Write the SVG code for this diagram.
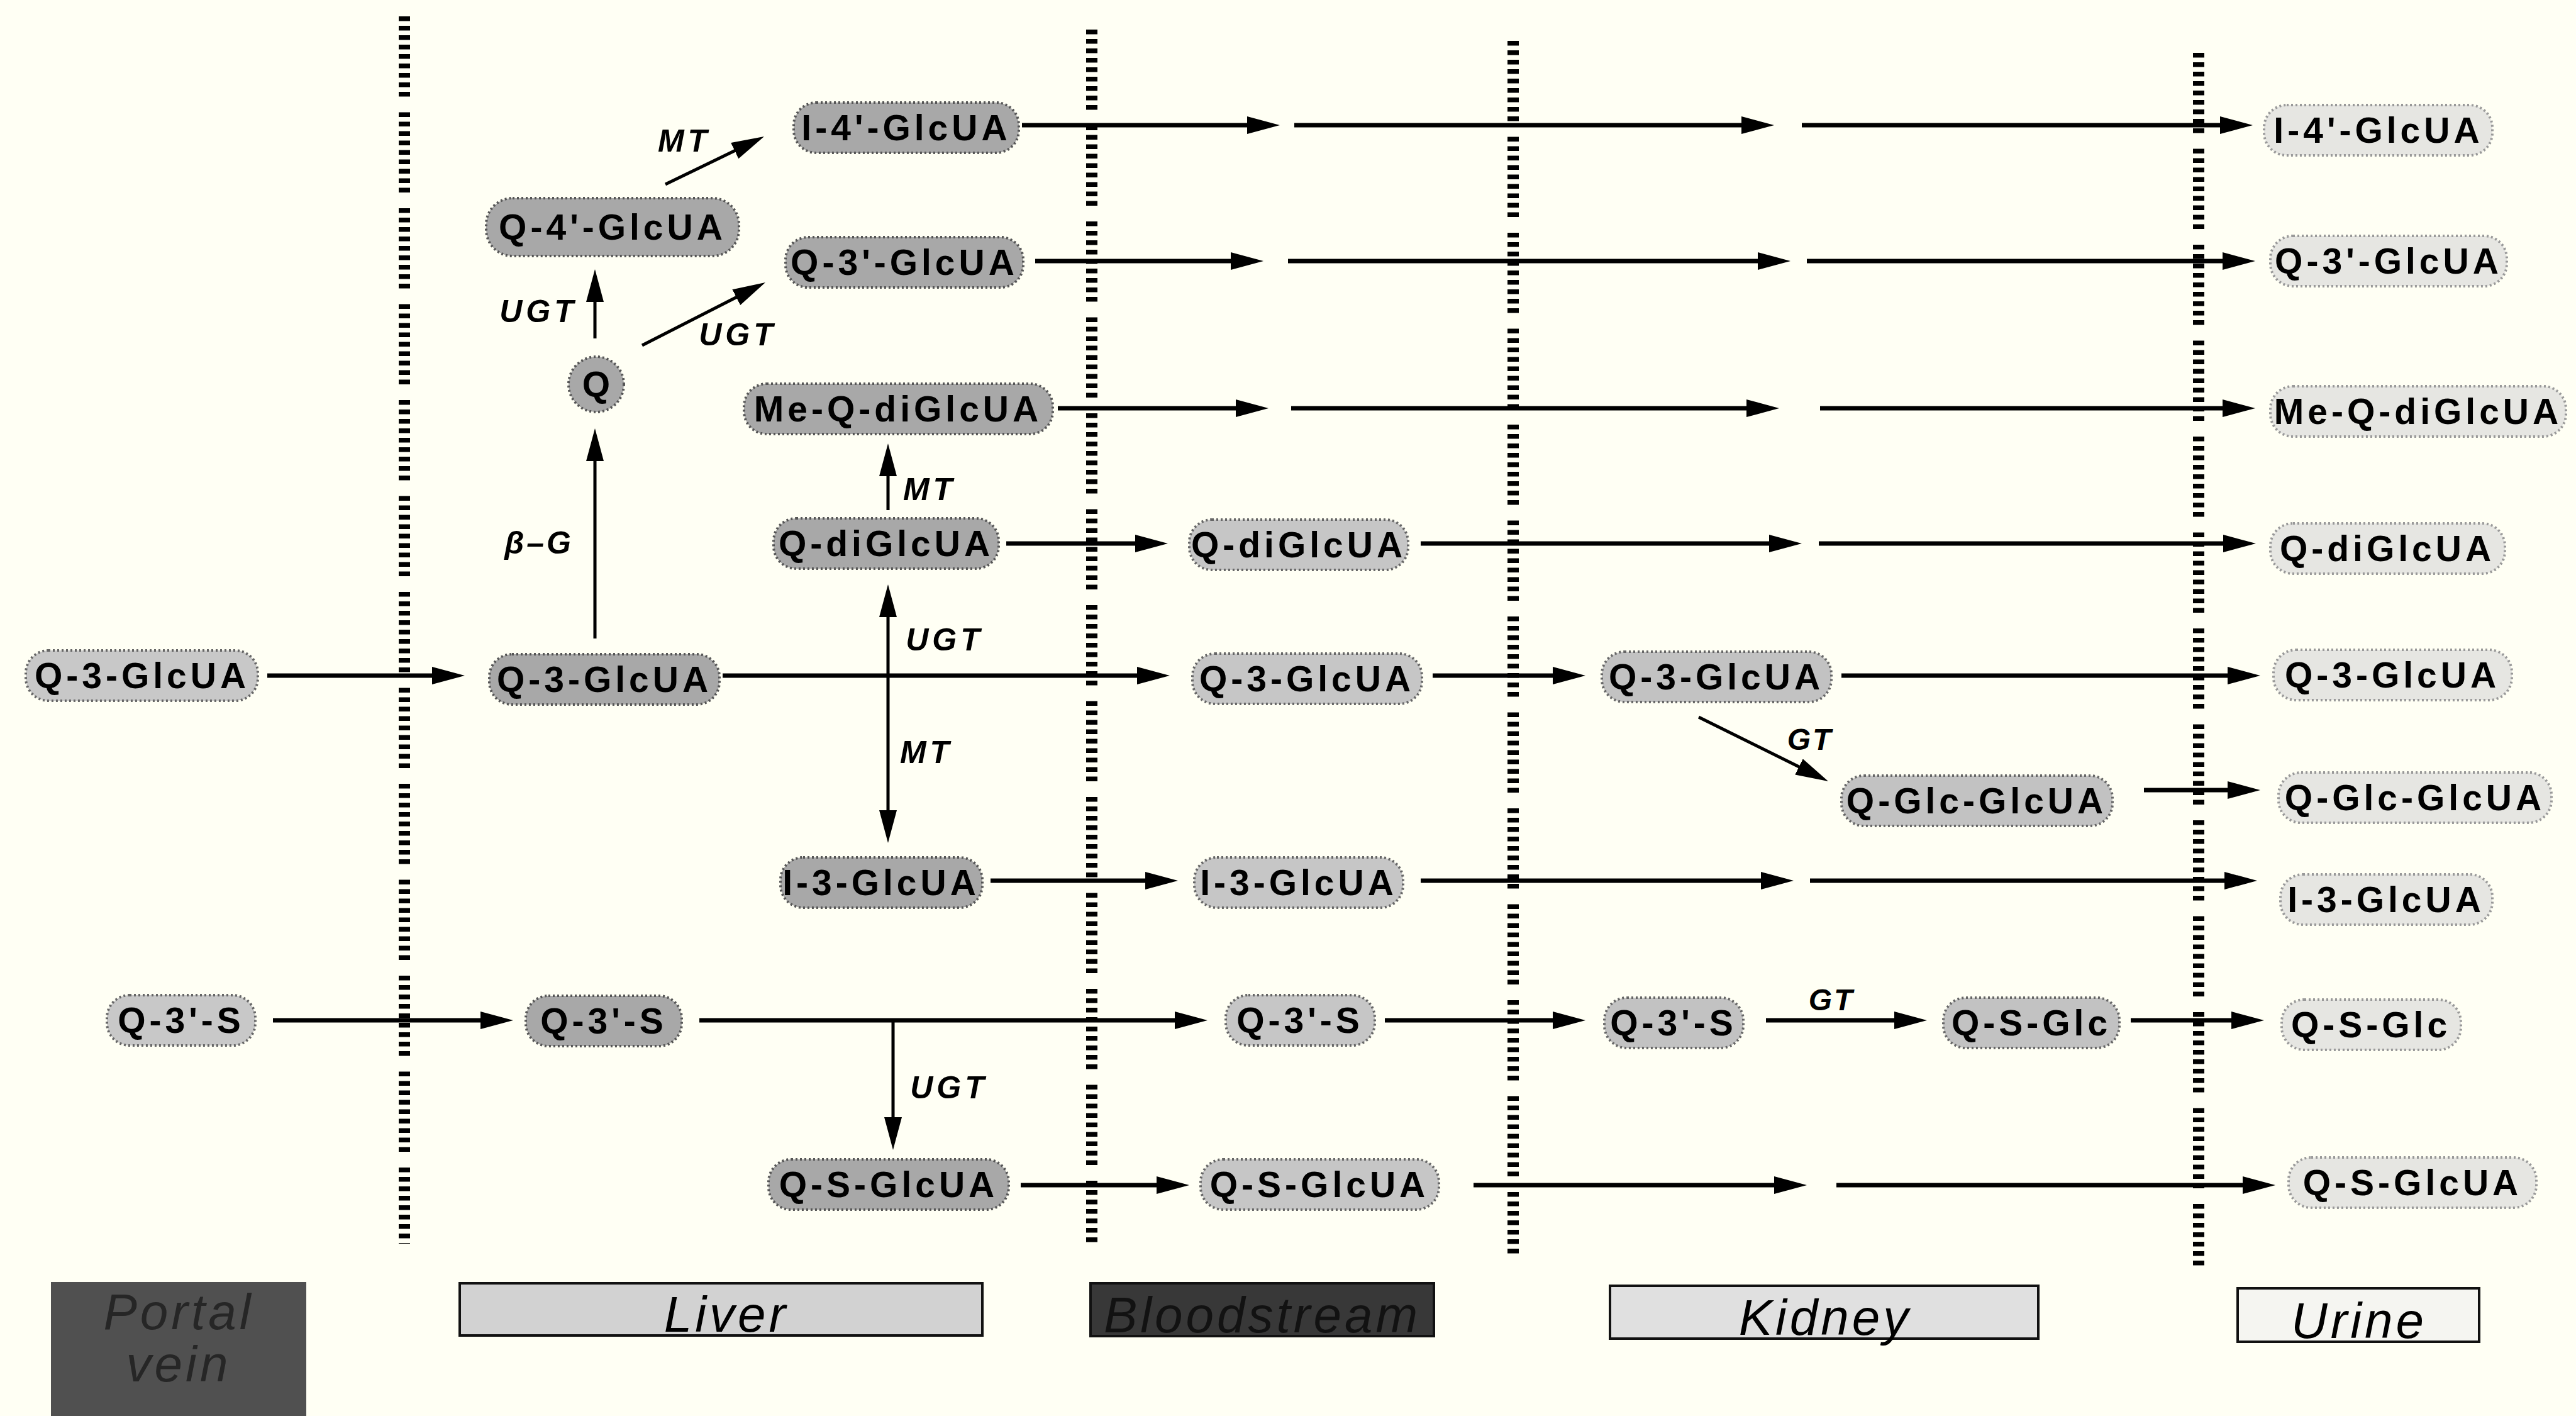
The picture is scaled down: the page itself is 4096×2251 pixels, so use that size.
<svg xmlns="http://www.w3.org/2000/svg" width="4096" height="2251" viewBox="0 0 4096 2251">
<defs>
<style>
.nt{font-family:"Liberation Sans",Arial,sans-serif;font-weight:bold;font-size:57px;letter-spacing:6px;text-anchor:middle;fill:#000}
.lbl{font-family:"Liberation Sans",Arial,sans-serif;font-weight:bold;font-style:italic;font-size:50px;letter-spacing:6px;text-anchor:middle;fill:#000}
.leg{font-family:"Liberation Sans",Arial,sans-serif;font-style:italic;font-size:80px;letter-spacing:5px;text-anchor:middle}
.liver{fill:#a8a8a8;stroke:#555;stroke-width:4;stroke-dasharray:3 4}
.portal{fill:#c8c8c8;stroke:#666;stroke-width:4;stroke-dasharray:3 4}
.blood{fill:#c6c6c6;stroke:#666;stroke-width:4;stroke-dasharray:3 4}
.kidney{fill:#c2c2c2;stroke:#666;stroke-width:4;stroke-dasharray:3 4}
.urine{fill:#e6e6e2;stroke:#999;stroke-width:4;stroke-dasharray:3 4}
.c{stroke:#000;stroke-width:7;fill:none;marker-end:url(#ah)}
.t{stroke-width:5}
.div{stroke:#000;stroke-width:18;fill:none;stroke-dasharray:7.5 7.5 7.5 7.5 7.5 7.5 7.5 7.5 7.5 7.5 7.5 7.5 7.5 7.5 7.5 7.5 7.5 25}
</style>
<marker id="ah" markerUnits="userSpaceOnUse" viewBox="0 0 52 28" markerWidth="52" markerHeight="28" refX="30" refY="14" orient="auto-start-reverse">
<path d="M0,0 L52,14 L0,28 z" fill="#000"/>
</marker>
</defs>
<rect x="0" y="0" width="4096" height="2251" fill="#fffff4"/>

<g id="dividers">
<line class="div" x1="643" y1="26" x2="643" y2="1977"/>
<line class="div" x1="1736" y1="47" x2="1736" y2="1980"/>
<line class="div" x1="2406" y1="65" x2="2406" y2="1998"/>
<line class="div" x1="3496" y1="84" x2="3496" y2="2018"/>
</g>

<g id="connectors">
<line class="c" x1="1625" y1="199" x2="2013" y2="199"/>
<line class="c" x1="2058" y1="199" x2="2799" y2="199"/>
<line class="c" x1="2865" y1="199" x2="3560" y2="199"/>
<line class="c" x1="1646" y1="415" x2="1987" y2="415"/>
<line class="c" x1="2048" y1="415" x2="2825" y2="415"/>
<line class="c" x1="2873" y1="415" x2="3564" y2="415"/>
<line class="c" x1="1682" y1="649" x2="1995" y2="649"/>
<line class="c" x1="2053" y1="649" x2="2807" y2="649"/>
<line class="c" x1="2894" y1="649" x2="3564" y2="649"/>
<line class="c" x1="1600" y1="864" x2="1835" y2="864"/>
<line class="c" x1="2259" y1="864" x2="2843" y2="864"/>
<line class="c" x1="2892" y1="864" x2="3565" y2="864"/>
<line class="c" x1="425" y1="1074" x2="717" y2="1074"/>
<line class="c" x1="1149" y1="1074" x2="1838" y2="1074"/>
<line class="c" x1="2278" y1="1074" x2="2499" y2="1074"/>
<line class="c" x1="2928" y1="1074" x2="3572" y2="1074"/>
<line class="c" x1="3409" y1="1256" x2="3572" y2="1256"/>
<line class="c" x1="1575" y1="1400" x2="1851" y2="1400"/>
<line class="c" x1="2259" y1="1400" x2="2830" y2="1400"/>
<line class="c" x1="2878" y1="1400" x2="3567" y2="1400"/>
<line class="c" x1="434" y1="1622" x2="794" y2="1622"/>
<line class="c" x1="1112" y1="1622" x2="1898" y2="1622"/>
<line class="c" x1="2202" y1="1622" x2="2499" y2="1622"/>
<line class="c" x1="2808" y1="1622" x2="3042" y2="1622"/>
<line class="c" x1="3388" y1="1622" x2="3578" y2="1622"/>
<line class="c" x1="1623" y1="1884" x2="1869" y2="1884"/>
<line class="c" x1="2343" y1="1884" x2="2851" y2="1884"/>
<line class="c" x1="2920" y1="1884" x2="3596" y2="1884"/>
<line class="c t" x1="946" y1="1015" x2="946" y2="703"/>
<line class="c t" x1="946" y1="538" x2="946" y2="450"/>
<line class="c t" x1="1412" y1="811" x2="1412" y2="727"/>
<line class="c t" x1="1412" y1="951" x2="1412" y2="1318" marker-start="url(#ah)"/>
<line class="c t" x1="1420" y1="1622" x2="1420" y2="1806"/>
<line class="c t" x1="1058" y1="293" x2="1195.2" y2="226.6"/>
<line class="c t" x1="1021" y1="549" x2="1197.4" y2="459"/>
<line class="c t" x1="2701" y1="1140" x2="2887.3" y2="1232.2"/>
<text class="lbl" x="1088" y="241">MT</text>
<text class="lbl" x="856" y="512">UGT</text>
<text class="lbl" x="1173" y="549">UGT</text>
<text class="lbl" x="857" y="880" style="letter-spacing:4px">β–G</text>
<text class="lbl" x="1478" y="795">MT</text>
<text class="lbl" x="1502" y="1034">UGT</text>
<text class="lbl" x="1473" y="1213">MT</text>
<text class="lbl" x="2878" y="1192" style="font-size:48px;letter-spacing:3px">GT</text>
<text class="lbl" x="2912" y="1606" style="font-size:48px;letter-spacing:3px">GT</text>
<text class="lbl" x="1509" y="1746">UGT</text>
</g>

<g id="n-i4-liver"><rect class="liver" x="1262" y="163" width="358" height="80" rx="36"/><text class="nt" x="1441" y="223">I-4'-GlcUA</text></g>
<g id="n-i4-urine"><rect class="urine" x="3600" y="167" width="363" height="80" rx="36"/><text class="nt" x="3782" y="227">I-4'-GlcUA</text></g>
<g id="n-q4-liver"><rect class="liver" x="773" y="315" width="402" height="92" rx="42"/><text class="nt" x="974" y="381">Q-4'-GlcUA</text></g>
<g id="n-q3p-liver"><rect class="liver" x="1249" y="377" width="378" height="80" rx="36"/><text class="nt" x="1438" y="437">Q-3'-GlcUA</text></g>
<g id="n-q3p-urine"><rect class="urine" x="3610" y="375" width="376" height="80" rx="36"/><text class="nt" x="3798" y="435">Q-3'-GlcUA</text></g>
<g id="n-q"><circle class="liver" cx="948" cy="611" r="44"/><text class="nt" x="951" y="631">Q</text></g>
<g id="n-meq-liver"><rect class="liver" x="1183" y="610" width="491" height="80" rx="36"/><text class="nt" x="1428" y="670">Me-Q-diGlcUA</text></g>
<g id="n-meq-urine"><rect class="urine" x="3610" y="614" width="470" height="80" rx="36"/><text class="nt" x="3845" y="674">Me-Q-diGlcUA</text></g>
<g id="n-qdi-liver"><rect class="liver" x="1230" y="824" width="358" height="80" rx="36"/><text class="nt" x="1409" y="884">Q-diGlcUA</text></g>
<g id="n-qdi-blood"><rect class="blood" x="1891" y="826" width="348" height="80" rx="36"/><text class="nt" x="2065" y="886">Q-diGlcUA</text></g>
<g id="n-qdi-urine"><rect class="urine" x="3610" y="832" width="373" height="80" rx="36"/><text class="nt" x="3796" y="892">Q-diGlcUA</text></g>
<g id="n-q3-portal"><rect class="portal" x="41" y="1034" width="369" height="80" rx="36"/><text class="nt" x="226" y="1094">Q-3-GlcUA</text></g>
<g id="n-q3-liver"><rect class="liver" x="778" y="1040" width="366" height="80" rx="36"/><text class="nt" x="961" y="1100">Q-3-GlcUA</text></g>
<g id="n-q3-blood"><rect class="blood" x="1896" y="1039" width="365" height="80" rx="36"/><text class="nt" x="2078" y="1099">Q-3-GlcUA</text></g>
<g id="n-q3-kidney"><rect class="kidney" x="2547" y="1036" width="365" height="80" rx="36"/><text class="nt" x="2729" y="1096">Q-3-GlcUA</text></g>
<g id="n-q3-urine"><rect class="urine" x="3615" y="1033" width="379" height="80" rx="36"/><text class="nt" x="3804" y="1093">Q-3-GlcUA</text></g>
<g id="n-qglc-kidney"><rect class="kidney" x="2928" y="1233" width="431" height="80" rx="36"/><text class="nt" x="3143" y="1293">Q-Glc-GlcUA</text></g>
<g id="n-qglc-urine"><rect class="urine" x="3623" y="1228" width="434" height="80" rx="36"/><text class="nt" x="3840" y="1288">Q-Glc-GlcUA</text></g>
<g id="n-i3-liver"><rect class="liver" x="1241" y="1363" width="321" height="80" rx="36"/><text class="nt" x="1401" y="1423">I-3-GlcUA</text></g>
<g id="n-i3-blood"><rect class="blood" x="1899" y="1363" width="332" height="80" rx="36"/><text class="nt" x="2065" y="1423">I-3-GlcUA</text></g>
<g id="n-i3-urine"><rect class="urine" x="3626" y="1390" width="337" height="80" rx="36"/><text class="nt" x="3794" y="1450">I-3-GlcUA</text></g>
<g id="n-qs-portal"><rect class="portal" x="170" y="1582" width="236" height="80" rx="36"/><text class="nt" x="288" y="1642">Q-3'-S</text></g>
<g id="n-qs-liver"><rect class="liver" x="836" y="1583" width="248" height="80" rx="36"/><text class="nt" x="960" y="1643">Q-3'-S</text></g>
<g id="n-qs-blood"><rect class="blood" x="1949" y="1582" width="237" height="80" rx="36"/><text class="nt" x="2067" y="1642">Q-3'-S</text></g>
<g id="n-qs-kidney"><rect class="kidney" x="2551" y="1586" width="221" height="80" rx="36"/><text class="nt" x="2661" y="1646">Q-3'-S</text></g>
<g id="n-qsglc-kidney"><rect class="kidney" x="3090" y="1586" width="280" height="80" rx="36"/><text class="nt" x="3230" y="1646">Q-S-Glc</text></g>
<g id="n-qsglc-urine"><rect class="urine" x="3628" y="1589" width="285" height="80" rx="36"/><text class="nt" x="3770" y="1649">Q-S-Glc</text></g>
<g id="n-qsgu-liver"><rect class="liver" x="1222" y="1843" width="382" height="80" rx="36"/><text class="nt" x="1413" y="1903">Q-S-GlcUA</text></g>
<g id="n-qsgu-blood"><rect class="blood" x="1909" y="1843" width="379" height="80" rx="36"/><text class="nt" x="2098" y="1903">Q-S-GlcUA</text></g>
<g id="n-qsgu-urine"><rect class="urine" x="3639" y="1840" width="394" height="80" rx="36"/><text class="nt" x="3836" y="1900">Q-S-GlcUA</text></g>

<g id="legend-portal"><rect x="81" y="2038" width="406" height="240" fill="#505050"/><text class="leg" x="284" y="2113" fill="#262626">Portal</text><text class="leg" x="284" y="2196" fill="#262626">vein</text></g>
<g id="legend-liver"><rect x="731" y="2040" width="831" height="83" fill="#d2d2d2" stroke="#111" stroke-width="4"/><text class="leg" x="1155" y="2117" fill="#000">Liver</text></g>
<g id="legend-blood"><rect x="1734" y="2040" width="546" height="84" fill="#383838" stroke="#111" stroke-width="4"/><text class="leg" x="2007" y="2118" fill="#121212">Bloodstream</text></g>
<g id="legend-kidney"><rect x="2560" y="2044" width="681" height="84" fill="#e0e0e0" stroke="#111" stroke-width="4"/><text class="leg" x="2902" y="2122" fill="#000">Kidney</text></g>
<g id="legend-urine"><rect x="3558" y="2048" width="384" height="85" fill="#f5f5f1" stroke="#111" stroke-width="4"/><text class="leg" x="3751" y="2127" fill="#000">Urine</text></g>
</svg>
